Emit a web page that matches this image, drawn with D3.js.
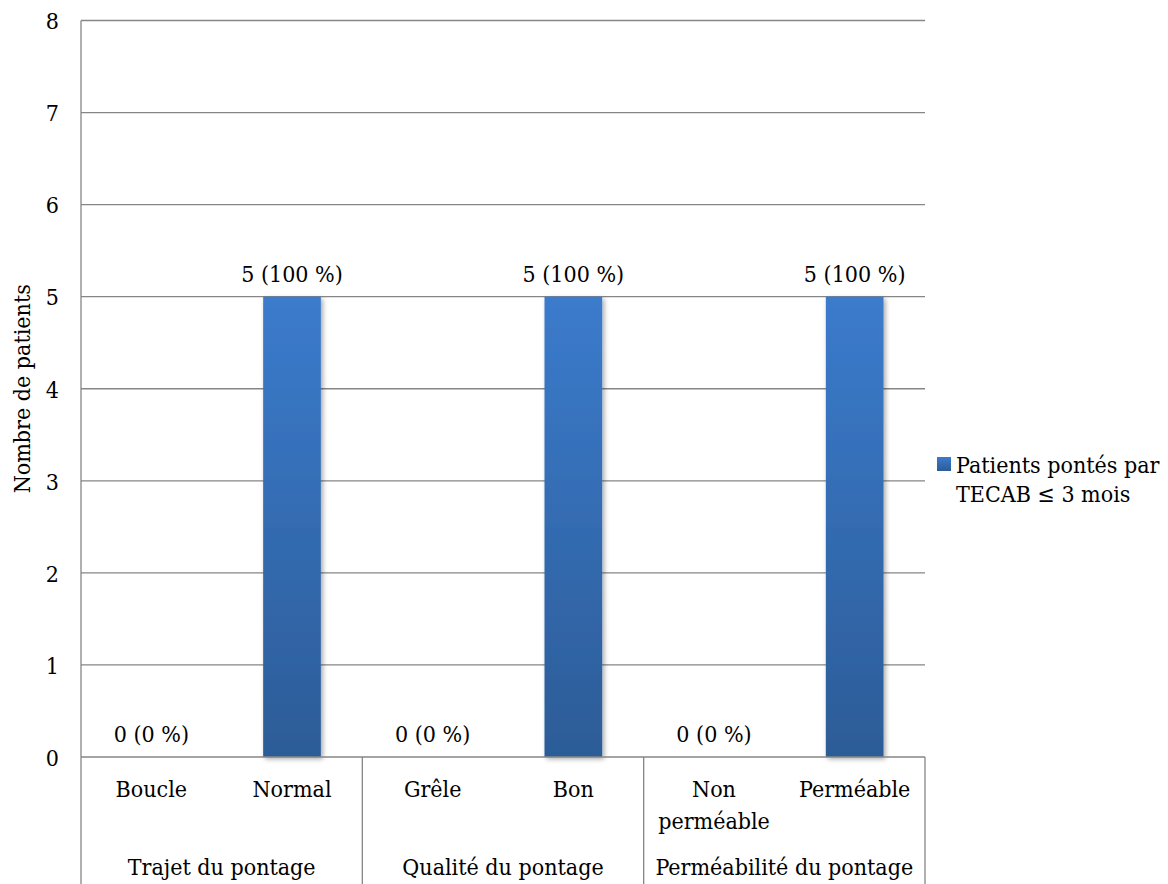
<!DOCTYPE html>
<html><head><meta charset="utf-8">
<script src="https://cdn.jsdelivr.net/npm/d3@7/dist/d3.min.js"></script>
<style>html,body{margin:0;padding:0;background:#fff}svg{display:block}svg text{font-family:"DejaVu Serif",serif !important;font-stretch:condensed;fill:#000}</style>
</head><body><svg id="c" width="1168" height="884"></svg>
<script>
const categories = [["Boucle"],["Normal"],["Grêle"],["Bon"],["Non","perméable"],["Perméable"]];
const groups = ["Trajet du pontage","Qualité du pontage","Perméabilité du pontage"];
const values = [0,5,0,5,0,5];
const valueLabels = ["0 (0 %)","5 (100 %)","0 (0 %)","5 (100 %)","0 (0 %)","5 (100 %)"];
const yTicks = [0,1,2,3,4,5,6,7,8];
const seriesName = ["Patients pontés par","TECAB ≤ 3 mois"];
const yTitle = "Nombre de patients";

const svg = d3.select("#c");
const L=81, R=925, T=20.5, B=757, FS=23;
const x = d3.scaleBand().domain(d3.range(categories.length)).range([L,R]).paddingInner(0).paddingOuter(0);
const y = d3.scaleLinear().domain([0,8]).range([B,T]);
const grid="#868686";

const defs = svg.append("defs");
const g = defs.append("linearGradient").attr("id","bg").attr("x1",0).attr("x2",0).attr("y1",0).attr("y2",1);
g.append("stop").attr("offset","0%").attr("stop-color","#3b7bcc");
g.append("stop").attr("offset","100%").attr("stop-color","#2c5c97");
const f = defs.append("filter").attr("id","sh").attr("x","-20%").attr("y","-5%").attr("width","140%").attr("height","115%");
f.append("feGaussianBlur").attr("in","SourceAlpha").attr("stdDeviation",2.5).attr("result","b");
f.append("feOffset").attr("in","b").attr("dx",1.5).attr("dy",2).attr("result","o");
f.append("feComponentTransfer").attr("in","o").attr("result","o2").append("feFuncA").attr("type","linear").attr("slope",0.35);
const fm=f.append("feMerge"); fm.append("feMergeNode").attr("in","o2"); fm.append("feMergeNode").attr("in","SourceGraphic");

svg.append("g").selectAll("line").data(yTicks.filter(d=>d>0)).join("line")
  .attr("x1",L).attr("x2",R).attr("y1",d=>y(d)).attr("y2",d=>y(d))
  .attr("stroke",grid).attr("stroke-width",1.3);

const ya = svg.append("g").attr("transform",`translate(${L},0)`)
  .call(d3.axisLeft(y).tickValues(yTicks).tickSize(0).tickPadding(22).tickFormat(d3.format("d")));
ya.attr("font-family",null).attr("font-size",null);
ya.select(".domain").remove();
ya.selectAll("text").attr("font-size",FS).attr("dy","0.36em").attr("fill","#000");

const bw = x.bandwidth()*0.41;
svg.append("g").selectAll("rect").data(values.map((v,i)=>({v,i})).filter(d=>d.v>0)).join("rect")
  .attr("x",d=>x(d.i)+x.bandwidth()/2-bw/2).attr("width",bw)
  .attr("y",d=>y(d.v)).attr("height",d=>y(0)-y(d.v))
  .attr("fill","url(#bg)").attr("filter","url(#sh)");

svg.append("g").selectAll("text").data(values).join("text")
  .attr("x",(d,i)=>x(i)+x.bandwidth()/2).attr("y",d=>y(d)-15)
  .attr("text-anchor","middle").attr("font-size",FS).text((d,i)=>valueLabels[i]);

svg.append("line").attr("x1",L).attr("x2",L).attr("y1",T).attr("y2",884).attr("stroke",grid).attr("stroke-width",1.3);
svg.append("line").attr("x1",L).attr("x2",R).attr("y1",B).attr("y2",B).attr("stroke",grid).attr("stroke-width",1.3);
svg.append("g").selectAll("line").data([2,4,6]).join("line")
  .attr("x1",d=>d<6?x(d):R).attr("x2",d=>d<6?x(d):R).attr("y1",B).attr("y2",884)
  .attr("stroke",grid).attr("stroke-width",1.3);

const cl = svg.append("g");
categories.forEach((c,i)=>{
  const cx = x(i)+x.bandwidth()/2;
  const t = cl.append("text").attr("text-anchor","middle").attr("font-size",FS).attr("x",cx).attr("y",797);
  c.forEach((s,j)=>t.append("tspan").attr("x",cx).attr("dy",j?32:0).text(s));
});
svg.append("g").selectAll("text").data(groups).join("text")
  .attr("x",(d,i)=>(x(i*2)+x(i*2+1)+x.bandwidth())/2).attr("y",875)
  .attr("text-anchor","middle").attr("font-size",FS).text(d=>d);

svg.append("text").attr("transform",`translate(30,${(T+B)/2}) rotate(-90)`)
  .attr("text-anchor","middle").attr("font-size",FS).text(yTitle);

svg.append("rect").attr("x",937).attr("y",457).attr("width",14).attr("height",14).attr("fill","url(#bg)");
const lt = svg.append("text").attr("x",956).attr("y",473).attr("font-size",FS);
seriesName.forEach((s,j)=>lt.append("tspan").attr("x",956).attr("dy",j?29:0).text(s));
</script></body></html>
